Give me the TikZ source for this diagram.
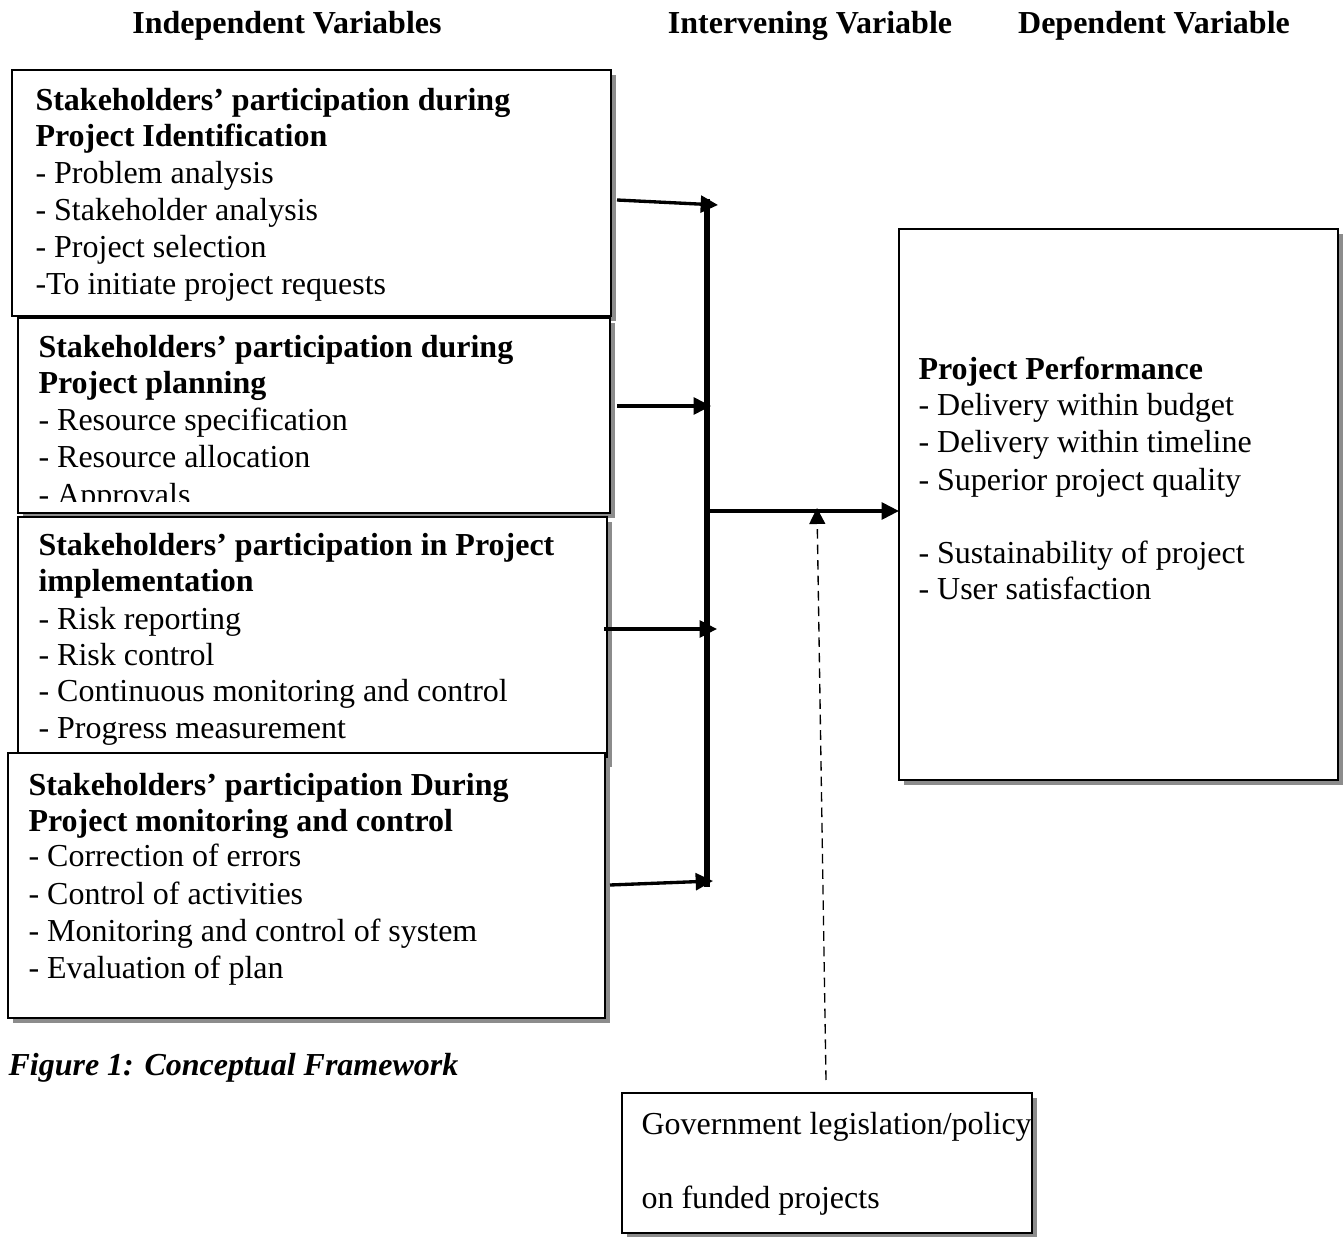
\documentclass[tikz,border=0pt]{standalone}
\usepackage{fontspec}
\setmainfont{Liberation Serif}
\usetikzlibrary{arrows.meta,shadows,fit}
\begin{document}
\begin{tikzpicture}[x=0.375pt,y=-0.375pt,
  box/.style={draw=black,line width=0.9pt,fill=white,inner sep=0pt,outer sep=0pt,
    drop shadow={shadow xshift=1.9pt,shadow yshift=-1.9pt,fill=black!45,opacity=1}},
  ln/.style={anchor=base west,inner sep=0pt,font=\fontsize{12}{14}\selectfont},
  ttl/.style={ln,font=\fontsize{12}{14}\selectfont\bfseries},
  hdr/.style={anchor=base,inner sep=0pt,font=\fontsize{12}{14}\selectfont\bfseries},
  arr/.style={line width=1.25pt,-{Triangle[length=6.5pt,width=6.3pt]}},
  bus/.style={line width=2.1pt}]
\useasboundingbox (0,0) rectangle (1344,1237);
% headers
\node[hdr] (h1) at (287,34) {Independent Variables};
\node[hdr] (h2) at (810,34) {Intervening Variable};
\node[hdr] (h3) at (1154,34) {Dependent Variable};
% box 1
\node[box,fit={(12,70) (611,316)}] (b1) {};
\node[ttl] (b1a) at (35,111) {Stakeholders’ participation during};
\node[ttl] (b1b) at (35,147) {Project Identification};
\node[ln] (b1c) at (35,184) {- Problem analysis};
\node[ln] (b1d) at (35,221) {- Stakeholder analysis};
\node[ln] (b1e) at (35,258) {- Project selection};
\node[ln] (b1f) at (35,295) {-To initiate project requests};
% box 2
\node[box,fit={(18,318) (610,513)}] (b2) {};
\node[ttl] (b2a) at (38,358) {Stakeholders’ participation during};
\node[ttl] (b2b) at (38,394) {Project planning};
\node[ln] (b2c) at (38,431) {- Resource specification};
\node[ln] (b2d) at (38,468) {- Resource allocation};
\begin{scope}
\clip (20,470) rectangle (600,502);
\node[ln] (b2e) at (38,506) {- Approvals};
\end{scope}
% box 3
\node[box,fit={(18,517) (607,762)}] (b3) {};
\node[ttl] (b3a) at (38,556) {Stakeholders’ participation in Project};
\node[ttl] (b3b) at (38,592) {implementation};
\node[ln] (b3c) at (38,630) {- Risk reporting};
\node[ln] (b3d) at (38,666) {- Risk control};
\node[ln] (b3e) at (38,702) {- Continuous monitoring and control};
\node[ln] (b3f) at (38,739) {- Progress measurement};
% box 4
\node[box,fit={(8,753) (605,1018)}] (b4) {};
\node[ttl] (b4a) at (28,795) {Stakeholders’ participation During};
\node[ttl] (b4b) at (28,831) {Project monitoring and control};
\node[ln] (b4c) at (28,867) {- Correction of errors};
\node[ln] (b4d) at (28,904) {- Control of activities};
\node[ln] (b4e) at (28,941) {- Monitoring and control of system};
\node[ln] (b4f) at (28,978) {- Evaluation of plan};
% caption
\node[ln,font=\fontsize{12}{14}\selectfont\bfseries\itshape] (cap) at (8,1075) {Figure 1: Conceptual Framework};
% right box
\node[box,line width=0.6pt,fit={(899,229) (1338,780)}] (rb) {};
\node[ttl] (rba) at (918,380) {Project Performance};
\node[ln] (rbb) at (918,416) {- Delivery within budget};
\node[ln] (rbc) at (918,453) {- Delivery within timeline};
\node[ln] (rbd) at (918,491) {- Superior project quality};
\node[ln] (rbe) at (918,564) {- Sustainability of project};
\node[ln] (rbf) at (918,600) {- User satisfaction};
% government box
\node[box,line width=0.6pt,fit={(622,1093) (1032,1233)}] (gov) {};
\node[ln] (gova) at (641,1134) {Government legislation/policy};
\node[ln] (govb) at (641,1208) {on funded projects};
% connectors
\coordinate (bt) at (707,199);
\coordinate (bb) at (707,887);
\draw[bus] (bt) -- (bb);
\coordinate (a1s) at (617,200);
\coordinate (a1t) at (718,205);
\coordinate (a2s) at (617,406);
\coordinate (a2t) at (711,406);
\coordinate (a3s) at (604,629);
\coordinate (a3t) at (717,629);
\coordinate (a4s) at (610,885);
\coordinate (a4t) at (713,881);
\draw[arr] (a1s) -- (a1t);
\draw[arr] (a2s) -- (a2t);
\draw[arr] (a3s) -- (a3t);
\draw[arr] (a4s) -- (a4t);
\coordinate (mj) at (707,511);
\draw[arr] (mj) -- (mj -| rb.west);
\coordinate (d0) at (826,1080);
\coordinate (dt) at (817,508);
\draw[line width=0.5pt,dash pattern=on 3.6pt off 2.2pt,-{Triangle[length=6pt,width=6pt]}] (d0) -- (dt);
\end{tikzpicture}
\end{document}
